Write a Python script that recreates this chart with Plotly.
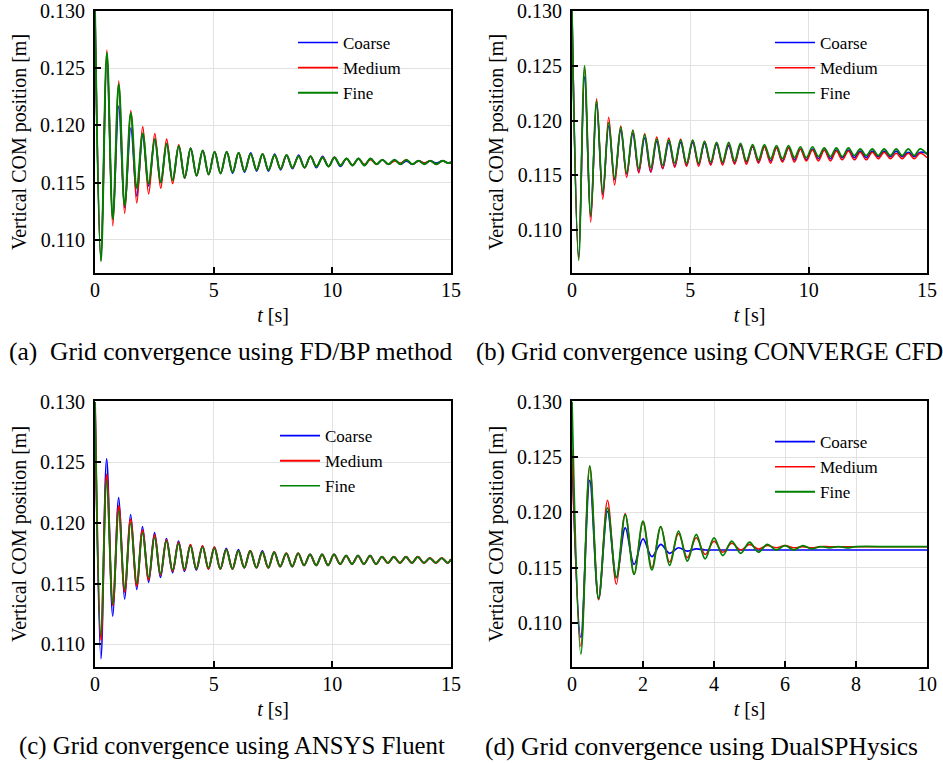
import plotly.graph_objects as go

# ---------------------------------------------------------------------------
# Vertical centre-of-mass position of the floating body, sampled at the
# successive extrema of the heave oscillation (start, trough, peak, ...).
# ---------------------------------------------------------------------------

# (a) FD/BP method
a_t = [0.00, 0.25, 0.50, 0.75, 1.00, 1.25, 1.51, 1.76, 2.01, 2.26, 2.52, 2.77, 3.02, 3.27, 3.53,
       3.78, 4.03, 4.28, 4.54, 4.79, 5.04, 5.29, 5.55, 5.80, 6.05, 6.30, 6.56, 6.81, 7.06, 7.31,
       7.57, 7.82, 8.07, 8.32, 8.58, 8.83, 9.08, 9.33, 9.59, 9.84, 10.09, 10.34, 10.60, 10.85,
       11.10, 11.35, 11.61, 11.86, 12.11, 12.36, 12.62, 12.87, 13.12, 13.37, 13.63, 13.88,
       14.13, 14.38, 14.64, 14.89, 15.00]
a_coarse = [0.1300, 0.1083, 0.1262, 0.1118, 0.1217, 0.1128, 0.1198, 0.1138, 0.1191, 0.1147,
            0.1188, 0.1150, 0.1184, 0.1152, 0.1182, 0.1154, 0.1180, 0.1156, 0.1178, 0.1157,
            0.1177, 0.1158, 0.1177, 0.1158, 0.1176, 0.1159, 0.1176, 0.1160, 0.1175, 0.1160,
            0.1175, 0.1161, 0.1174, 0.1162, 0.1174, 0.1163, 0.1173, 0.1163, 0.1173, 0.1164,
            0.1172, 0.1164, 0.1171, 0.1165, 0.1171, 0.1165, 0.1171, 0.1166, 0.1170, 0.1166,
            0.1170, 0.1166, 0.1169, 0.1166, 0.1169, 0.1167, 0.1169, 0.1167, 0.1169, 0.1167,
            0.1168]
a_medium = [0.1300, 0.1082, 0.1266, 0.1112, 0.1239, 0.1123, 0.1213, 0.1132, 0.1199, 0.1140,
            0.1193, 0.1145, 0.1188, 0.1149, 0.1183, 0.1154, 0.1180, 0.1156, 0.1178, 0.1157,
            0.1177, 0.1158, 0.1177, 0.1159, 0.1176, 0.1160, 0.1175, 0.1161, 0.1175, 0.1161,
            0.1174, 0.1162, 0.1174, 0.1163, 0.1173, 0.1163, 0.1173, 0.1164, 0.1172, 0.1164,
            0.1172, 0.1165, 0.1171, 0.1165, 0.1171, 0.1166, 0.1170, 0.1166, 0.1170, 0.1166,
            0.1169, 0.1167, 0.1170, 0.1166, 0.1169, 0.1167, 0.1169, 0.1166, 0.1169, 0.1167,
            0.1167]
a_fine = [0.1300, 0.1081, 0.1264, 0.1118, 0.1236, 0.1130, 0.1211, 0.1145, 0.1193, 0.1149,
          0.1188, 0.1150, 0.1184, 0.1152, 0.1182, 0.1154, 0.1180, 0.1156, 0.1178, 0.1157,
          0.1177, 0.1158, 0.1177, 0.1159, 0.1176, 0.1160, 0.1175, 0.1161, 0.1175, 0.1161,
          0.1174, 0.1162, 0.1174, 0.1163, 0.1173, 0.1163, 0.1173, 0.1164, 0.1172, 0.1164,
          0.1172, 0.1165, 0.1171, 0.1165, 0.1171, 0.1165, 0.1171, 0.1166, 0.1170, 0.1166,
          0.1170, 0.1166, 0.1170, 0.1166, 0.1169, 0.1166, 0.1169, 0.1166, 0.1169, 0.1167,
          0.1168]

# (b) CONVERGE CFD
b_t = [0.00, 0.28, 0.53, 0.79, 1.04, 1.30, 1.55, 1.80, 2.06, 2.31, 2.57, 2.82, 3.07, 3.33, 3.58,
       3.83, 4.09, 4.34, 4.59, 4.84, 5.10, 5.35, 5.60, 5.86, 6.11, 6.36, 6.62, 6.87, 7.12, 7.37,
       7.63, 7.88, 8.13, 8.39, 8.64, 8.89, 9.15, 9.40, 9.65, 9.90, 10.16, 10.41, 10.66, 10.92,
       11.17, 11.42, 11.68, 11.93, 12.18, 12.43, 12.69, 12.94, 13.19, 13.45, 13.70, 13.95,
       14.21, 14.46, 14.71, 15.00]
b_coarse = [0.1300, 0.1075, 0.1240, 0.1112, 0.1215, 0.1132, 0.1195, 0.1146, 0.1191, 0.1151,
            0.1188, 0.1153, 0.1184, 0.1153, 0.1181, 0.1156, 0.1180, 0.1158, 0.1180, 0.1159,
            0.1180, 0.1160, 0.1179, 0.1160, 0.1178, 0.1161, 0.1177, 0.1161, 0.1177, 0.1162,
            0.1176, 0.1162, 0.1176, 0.1163, 0.1175, 0.1163, 0.1175, 0.1164, 0.1174, 0.1164,
            0.1174, 0.1165, 0.1173, 0.1165, 0.1173, 0.1166, 0.1173, 0.1166, 0.1172, 0.1166,
            0.1172, 0.1167, 0.1172, 0.1167, 0.1172, 0.1167, 0.1171, 0.1167, 0.1171, 0.1170]
b_medium = [0.1300, 0.1074, 0.1248, 0.1107, 0.1220, 0.1128, 0.1203, 0.1141, 0.1195, 0.1148,
            0.1191, 0.1152, 0.1188, 0.1153, 0.1185, 0.1156, 0.1184, 0.1157, 0.1183, 0.1158,
            0.1182, 0.1158, 0.1181, 0.1159, 0.1180, 0.1159, 0.1179, 0.1160, 0.1178, 0.1160,
            0.1177, 0.1161, 0.1176, 0.1161, 0.1175, 0.1162, 0.1175, 0.1162, 0.1174, 0.1163,
            0.1173, 0.1163, 0.1173, 0.1163, 0.1172, 0.1164, 0.1172, 0.1164, 0.1171, 0.1164,
            0.1171, 0.1165, 0.1171, 0.1165, 0.1170, 0.1165, 0.1170, 0.1165, 0.1170, 0.1166]
b_fine = [0.1300, 0.1072, 0.1250, 0.1113, 0.1218, 0.1134, 0.1198, 0.1147, 0.1194, 0.1152,
          0.1191, 0.1156, 0.1187, 0.1157, 0.1183, 0.1159, 0.1182, 0.1161, 0.1182, 0.1161,
          0.1182, 0.1161, 0.1181, 0.1162, 0.1180, 0.1162, 0.1180, 0.1163, 0.1179, 0.1163,
          0.1178, 0.1164, 0.1178, 0.1165, 0.1177, 0.1165, 0.1177, 0.1166, 0.1176, 0.1166,
          0.1176, 0.1167, 0.1175, 0.1167, 0.1175, 0.1167, 0.1175, 0.1168, 0.1174, 0.1168,
          0.1174, 0.1168, 0.1174, 0.1168, 0.1174, 0.1168, 0.1174, 0.1168, 0.1174, 0.1169]

# (c) ANSYS Fluent
c_t = [0.00, 0.25, 0.49, 0.75, 1.00, 1.25, 1.50, 1.76, 2.00, 2.26, 2.51, 2.76, 3.01, 3.27, 3.52,
       3.77, 4.02, 4.27, 4.53, 4.78, 5.03, 5.28, 5.53, 5.79, 6.04, 6.29, 6.54, 6.80, 7.05, 7.30,
       7.55, 7.80, 8.06, 8.31, 8.56, 8.81, 9.06, 9.32, 9.57, 9.82, 10.07, 10.33, 10.58, 10.83,
       11.08, 11.33, 11.59, 11.84, 12.09, 12.34, 12.59, 12.85, 13.10, 13.35, 13.60, 13.86,
       14.11, 14.36, 14.61, 14.86, 15.00]
c_coarse = [0.1300, 0.1088, 0.1253, 0.1123, 0.1221, 0.1137, 0.1207, 0.1145, 0.1197, 0.1151,
            0.1192, 0.1155, 0.1187, 0.1159, 0.1185, 0.1160, 0.1182, 0.1161, 0.1181, 0.1162,
            0.1180, 0.1162, 0.1179, 0.1162, 0.1178, 0.1163, 0.1177, 0.1163, 0.1177, 0.1163,
            0.1176, 0.1164, 0.1175, 0.1164, 0.1175, 0.1165, 0.1174, 0.1165, 0.1174, 0.1165,
            0.1174, 0.1166, 0.1173, 0.1166, 0.1173, 0.1166, 0.1173, 0.1166, 0.1172, 0.1167,
            0.1172, 0.1167, 0.1172, 0.1167, 0.1172, 0.1167, 0.1171, 0.1167, 0.1171, 0.1167,
            0.1170]
c_medium = [0.1300, 0.1103, 0.1240, 0.1132, 0.1214, 0.1143, 0.1203, 0.1148, 0.1194, 0.1153,
            0.1190, 0.1157, 0.1186, 0.1160, 0.1184, 0.1161, 0.1182, 0.1162, 0.1181, 0.1162,
            0.1180, 0.1162, 0.1178, 0.1162, 0.1177, 0.1163, 0.1177, 0.1163, 0.1176, 0.1163,
            0.1176, 0.1164, 0.1175, 0.1164, 0.1175, 0.1165, 0.1174, 0.1165, 0.1174, 0.1165,
            0.1174, 0.1166, 0.1173, 0.1166, 0.1173, 0.1166, 0.1173, 0.1166, 0.1172, 0.1167,
            0.1172, 0.1167, 0.1172, 0.1167, 0.1172, 0.1167, 0.1171, 0.1167, 0.1171, 0.1167,
            0.1170]
c_fine = [0.1300, 0.1107, 0.1235, 0.1133, 0.1210, 0.1145, 0.1200, 0.1150, 0.1192, 0.1155,
          0.1188, 0.1158, 0.1185, 0.1161, 0.1183, 0.1162, 0.1181, 0.1162, 0.1180, 0.1163,
          0.1179, 0.1162, 0.1178, 0.1162, 0.1177, 0.1163, 0.1177, 0.1163, 0.1176, 0.1163,
          0.1176, 0.1164, 0.1175, 0.1164, 0.1175, 0.1165, 0.1174, 0.1165, 0.1174, 0.1165,
          0.1174, 0.1166, 0.1173, 0.1166, 0.1173, 0.1166, 0.1173, 0.1166, 0.1172, 0.1167,
          0.1172, 0.1167, 0.1172, 0.1167, 0.1172, 0.1167, 0.1171, 0.1167, 0.1171, 0.1167,
          0.1170]

# (d) DualSPHysics
d_t = [0.00, 0.25, 0.50, 0.75, 1.00, 1.25, 1.50, 1.75, 2.00, 2.25, 2.50, 2.75, 3.00, 3.25, 3.50,
       3.75, 4.00, 4.25, 4.50, 4.75, 5.00, 5.25, 5.50, 5.75, 6.00, 6.25, 6.50, 6.75, 7.00, 7.25,
       7.50, 7.75, 8.00, 9.00, 10.00]
d_coarse = [0.1252, 0.1087, 0.1229, 0.1122, 0.1201, 0.1141, 0.1186, 0.1153, 0.1176, 0.1160,
            0.1171, 0.1163, 0.1168, 0.1165, 0.1167, 0.1166, 0.1166, 0.1166, 0.1166, 0.1166,
            0.1166, 0.1166, 0.1166, 0.1166, 0.1166, 0.1166, 0.1166, 0.1166, 0.1166, 0.1166,
            0.1166, 0.1166, 0.1166, 0.1166, 0.1166]
d_medium = [0.1257, 0.1079, 0.1241, 0.1121, 0.1211, 0.1135, 0.1199, 0.1144, 0.1191, 0.1150,
            0.1187, 0.1155, 0.1181, 0.1159, 0.1177, 0.1162, 0.1174, 0.1164, 0.1172, 0.1166,
            0.1171, 0.1167, 0.1170, 0.1168, 0.1170, 0.1168, 0.1169, 0.1168, 0.1169, 0.1169,
            0.1169, 0.1169, 0.1169, 0.1169, 0.1169]
d_fine = [0.1300, 0.1072, 0.1242, 0.1122, 0.1204, 0.1141, 0.1198, 0.1144, 0.1192, 0.1148,
          0.1187, 0.1152, 0.1183, 0.1156, 0.1180, 0.1158, 0.1177, 0.1161, 0.1174, 0.1163,
          0.1173, 0.1164, 0.1171, 0.1166, 0.1170, 0.1166, 0.1170, 0.1167, 0.1169, 0.1168,
          0.1169, 0.1168, 0.1169, 0.1169, 0.1169]

series_names = ["Coarse", "Medium", "Fine"]
series_colors = ["#0000ff", "#ff0000", "#008000"]

captions = [
    "(a)&nbsp;&nbsp;Grid convergence using FD/BP method",
    "(b) Grid convergence using CONVERGE CFD",
    "(c) Grid convergence using ANSYS Fluent",
    "(d) Grid convergence using DualSPHysics",
]

x_ranges = [[0, 15], [0, 15], [0, 15], [0, 10]]
x_dticks = [5, 5, 5, 2]
y_ranges = [[0.10707, 0.13003], [0.10604, 0.13003], [0.10810, 0.13008], [0.10602, 0.13007]]

panels = [
    (a_t, [a_coarse, a_medium, a_fine]),
    (b_t, [b_coarse, b_medium, b_fine]),
    (c_t, [c_coarse, c_medium, c_fine]),
    (d_t, [d_coarse, d_medium, d_fine]),
]

# ---------------------------------------------------------------------------
W, H = 943, 763
FONT = "Liberation Serif"

# plot-area boxes in pixels: (left, right, top, bottom)
boxes = [(95, 451, 11, 273), (572, 927, 11, 273), (95, 451, 401, 667), (572, 927, 401, 667)]
legend_pos = [(293, 25), (770, 25), (275, 418), (770, 424)]
caption_pos = [(231, 352), (709, 352), (232, 746), (701, 746)]
caption_sizes = [25.5, 24.8, 24.8, 25.5]
widths = [[1.6, 1.6, 2.0], [1.6, 1.5, 1.7], [1.7, 2.0, 1.7], [1.7, 1.5, 1.8]]

fig = go.Figure()
layout = dict(
    width=W, height=H,
    margin=dict(l=0, r=0, t=0, b=0, autoexpand=False),
    paper_bgcolor="white", plot_bgcolor="white",
    font=dict(family=FONT, size=20, color="black"),
    showlegend=True,
)

annotations = []
for i, (t, ys) in enumerate(panels):
    sfx = "" if i == 0 else str(i + 1)
    leg = "legend" if i == 0 else f"legend{i + 1}"
    for name, color, y, w in zip(series_names, series_colors, ys, widths[i]):
        fig.add_trace(go.Scatter(
            x=t, y=y, name=name, mode="lines",
            line=dict(color=color, width=w, shape="spline", smoothing=1.0),
            xaxis=f"x{sfx}", yaxis=f"y{sfx}", legend=leg,
        ))

    l, r, top, bot = boxes[i]
    common = dict(
        showline=True, linecolor="black", linewidth=2, mirror=True,
        ticks="inside", ticklen=6, tickwidth=2, tickcolor="black",
        showgrid=True, gridcolor="#e2e2e2", gridwidth=1, zeroline=False,
        tickfont=dict(family=FONT, size=20, color="black"),
        automargin=False, ticklabeloverflow="allow",
    )
    layout[f"xaxis{sfx}"] = dict(
        common, domain=[l / W, r / W], range=x_ranges[i], dtick=x_dticks[i], tick0=0,
        anchor=f"y{sfx}", ticklabelstandoff=-2,
        title=dict(text="<i>t</i> [s]", font=dict(family=FONT, size=20), standoff=8),
    )
    layout[f"yaxis{sfx}"] = dict(
        common, domain=[1 - bot / H, 1 - top / H], range=y_ranges[i], dtick=0.005,
        tick0=0.110, tickformat=".3f", anchor=f"x{sfx}", ticklabelstandoff=4,
        title=dict(text="Vertical COM position [m]", font=dict(family=FONT, size=20),
                   standoff=8),
    )
    lx, ly = legend_pos[i]
    layout[leg] = dict(
        x=lx / W, y=1 - ly / H, xanchor="left", yanchor="top",
        bgcolor="rgba(0,0,0,0)", borderwidth=0,
        font=dict(family=FONT, size=17, color="black"),
        itemwidth=40, tracegroupgap=0,
    )
    cx, cy = caption_pos[i]
    annotations.append(dict(
        text=captions[i], x=cx / W, y=1 - cy / H, xref="paper", yref="paper",
        showarrow=False, xanchor="center", yanchor="middle",
        font=dict(family=FONT, size=caption_sizes[i], color="black"),
    ))

layout["annotations"] = annotations
fig.update_layout(**layout)
fig.write_html("out.html")
